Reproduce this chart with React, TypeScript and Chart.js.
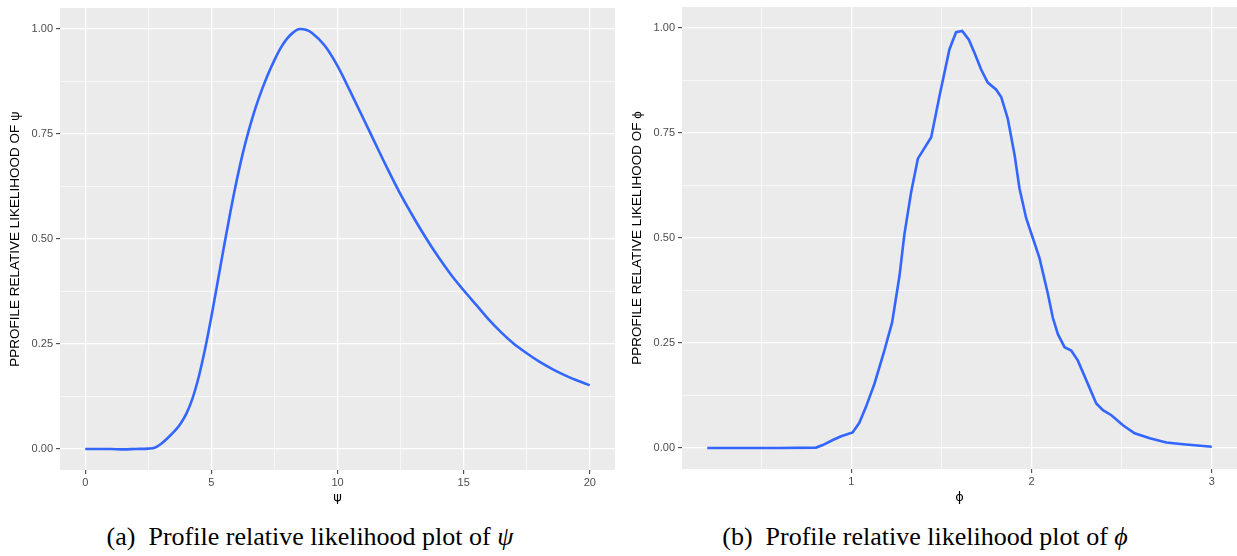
import React, { useEffect, useRef } from "react";
import { Chart, registerables } from "chart.js";

Chart.register(...registerables);

// ---- data ----
const psiValues = [0, 0.5, 1, 1.5, 2, 2.5, 2.75, 3, 3.25, 3.5, 3.75, 4, 4.25, 4.5, 4.75, 5, 5.25, 5.5, 5.75, 6, 6.25, 6.5, 6.75, 7, 7.25, 7.5, 7.75, 8, 8.25, 8.5, 8.75, 9, 9.5, 10, 10.5, 11, 11.5, 12, 12.5, 13, 13.5, 14, 14.5, 15, 15.5, 16, 16.5, 17, 17.5, 18, 18.5, 19, 19.5, 20];
const psiLikelihood = [0, 0, 0, -0.001, 0, 0.001, 0.003, 0.012, 0.025, 0.04, 0.058, 0.083, 0.12, 0.172, 0.238, 0.315, 0.398, 0.482, 0.563, 0.638, 0.705, 0.762, 0.812, 0.855, 0.893, 0.926, 0.955, 0.977, 0.992, 1.0, 0.998, 0.99, 0.96, 0.912, 0.852, 0.79, 0.727, 0.665, 0.606, 0.553, 0.503, 0.457, 0.415, 0.378, 0.343, 0.308, 0.277, 0.25, 0.228, 0.208, 0.191, 0.176, 0.163, 0.152];

const phiValues = [0.2, 0.4, 0.6, 0.804, 0.841, 0.897, 0.943, 1.007, 1.044, 1.081, 1.128, 1.183, 1.226, 1.267, 1.294, 1.332, 1.369, 1.443, 1.489, 1.544, 1.581, 1.615, 1.652, 1.683, 1.72, 1.757, 1.804, 1.832, 1.868, 1.906, 1.933, 1.97, 2.007, 2.044, 2.072, 2.091, 2.118, 2.146, 2.183, 2.22, 2.257, 2.304, 2.359, 2.396, 2.443, 2.507, 2.572, 2.656, 2.748, 2.841, 3.0];
const phiLikelihood = [0, 0, 0, 0.001, 0.007, 0.019, 0.028, 0.037, 0.06, 0.098, 0.153, 0.232, 0.299, 0.41, 0.508, 0.61, 0.689, 0.74, 0.838, 0.949, 0.99, 0.993, 0.972, 0.941, 0.901, 0.87, 0.853, 0.835, 0.784, 0.697, 0.618, 0.547, 0.5, 0.452, 0.401, 0.366, 0.31, 0.271, 0.24, 0.232, 0.208, 0.161, 0.106, 0.09, 0.078, 0.054, 0.035, 0.023, 0.013, 0.009, 0.003];

const likelihoodTicks = [0, 0.25, 0.5, 0.75, 1];
const likelihoodMinor = [0.125, 0.375, 0.625, 0.875];
const psiTicks = [0, 5, 10, 15, 20];
const psiMinor = [2.5, 7.5, 12.5, 17.5];
const phiTicks = [1, 2, 3];
const phiMinor = [0.5, 1.5, 2.5];

const yTitleA = "PPROFILE RELATIVE LIKELIHOOD OF ψ";
const yTitleB = "PPROFILE RELATIVE LIKELIHOOD OF ϕ";
const xTitleA = "ψ";
const xTitleB = "ϕ";

const LINE_COLOR = "#3366FF";

const bgPlugin = {
  id: "panelBg",
  beforeDraw(chart: any) {
    const { ctx, chartArea: a } = chart;
    ctx.save();
    ctx.fillStyle = "#EBEBEB";
    ctx.fillRect(a.left, a.top, a.right - a.left, a.bottom - a.top);
    ctx.restore();
  },
};

const near = (list: number[], v: number) => list.some((m) => Math.abs(m - v) < 1e-9);

function makeConfig(p: any) {
  const xAll = [...p.xMajor, ...p.xMinor].sort((a: number, b: number) => a - b);
  const yAll = [...likelihoodTicks, ...likelihoodMinor].sort((a, b) => a - b);
  const tickFont = { family: "'Liberation Sans', Arial, sans-serif", size: 11 };
  const titleFont = { family: "'Liberation Sans', Arial, sans-serif", size: 13.5 };
  const gridFor = (major: number[]) => ({
    color: "#FFFFFF",
    lineWidth: (c: any) => (c.tick && near(major, c.tick.value) ? 1.3 : 0.6),
    drawTicks: true,
    tickLength: 4,
    tickWidth: 1,
    tickColor: (c: any) => (c.tick && near(major, c.tick.value) ? "#333333" : "rgba(0,0,0,0)"),
  });
  return {
    type: "line",
    data: {
      datasets: [
        {
          data: p.xs.map((x: number, i: number) => ({ x, y: p.ys[i] })),
          borderColor: LINE_COLOR,
          borderWidth: 2.6,
          pointRadius: 0,
          fill: false,
          tension: p.smooth ? 0.4 : 0,
          cubicInterpolationMode: p.smooth ? "monotone" : "default",
        },
      ],
    },
    options: {
      responsive: false,
      animation: false,
      devicePixelRatio: 1,
      layout: { padding: p.padding },
      plugins: { legend: { display: false }, tooltip: { enabled: false } },
      scales: {
        x: {
          type: "linear",
          min: p.xMin,
          max: p.xMax,
          afterBuildTicks: (s: any) => {
            s.ticks = xAll.map((v: number) => ({ value: v }));
          },
          afterFit: (s: any) => {
            s.height = p.xAxisHeight;
            s.paddingLeft = 0;
            s.paddingRight = 0;
          },
          ticks: {
            autoSkip: false,
            maxRotation: 0,
            minRotation: 0,
            padding: 2,
            color: "#4D4D4D",
            font: tickFont,
            callback: (v: number) => (near(p.xMajor, v) ? String(v) : ""),
          },
          grid: gridFor(p.xMajor),
          border: { display: false },
          title: {
            display: true,
            text: p.xTitle,
            color: "#000000",
            font: { family: "'DejaVu Sans', sans-serif", size: 13 },
            padding: { top: 0, bottom: 5 },
          },
        },
        y: {
          type: "linear",
          min: -0.05,
          max: 1.05,
          afterBuildTicks: (s: any) => {
            s.ticks = yAll.map((v: number) => ({ value: v }));
          },
          afterFit: (s: any) => {
            s.width = p.yAxisWidth;
            s.paddingTop = 0;
            s.paddingBottom = 0;
          },
          ticks: {
            autoSkip: false,
            padding: 3,
            color: "#4D4D4D",
            font: tickFont,
            callback: (v: number) => (near(likelihoodTicks, v) ? v.toFixed(2) : ""),
          },
          grid: gridFor(likelihoodTicks),
          border: { display: false },
          title: {
            display: true,
            text: p.yTitle,
            color: "#000000",
            font: titleFont,
            padding: { top: p.yTitlePad, bottom: 0 },
          },
        },
      },
    },
    plugins: [bgPlugin],
  };
}

function Panel(props: { cfg: any; left: number; width: number; height: number }) {
  const ref = useRef<HTMLCanvasElement | null>(null);
  useEffect(() => {
    if (!ref.current) return;
    const chart = new Chart(ref.current, props.cfg);
    return () => chart.destroy();
  }, []);
  return (
    <canvas
      ref={ref}
      width={props.width}
      height={props.height}
      style={{ position: "absolute", left: props.left, top: 0, width: props.width, height: props.height }}
    />
  );
}

const cfgA = makeConfig({
  xs: psiValues,
  ys: psiLikelihood,
  xMin: -1,
  xMax: 21,
  xMajor: psiTicks,
  xMinor: psiMinor,
  xTitle: xTitleA,
  yTitle: yTitleA,
  yAxisWidth: 60,
  xAxisHeight: 40,
  yTitlePad: 7,
  padding: { left: 0, top: 8, right: 5, bottom: 0 },
  smooth: true,
});

const cfgB = makeConfig({
  xs: phiValues,
  ys: phiLikelihood,
  xMin: 0.06,
  xMax: 3.14,
  xMajor: phiTicks,
  xMinor: phiMinor,
  xTitle: xTitleB,
  yTitle: yTitleB,
  yAxisWidth: 62,
  xAxisHeight: 41,
  yTitlePad: 9,
  padding: { left: 0, top: 7, right: 0, bottom: 0 },
  smooth: false,
});

const captionStyle: React.CSSProperties = {
  position: "absolute",
  top: 522,
  width: 620,
  textAlign: "center",
  fontFamily: "'Liberation Serif', 'Times New Roman', serif",
  fontSize: 26,
  color: "#000",
  lineHeight: "30px",
  whiteSpace: "nowrap",
};

export default function App() {
  return (
    <div style={{ position: "absolute", left: 0, top: 0, width: 1237, height: 556, background: "#FFFFFF", overflow: "hidden" }}>
      <Panel cfg={cfgA} left={0} width={620} height={510} />
      <Panel cfg={cfgB} left={620} width={617} height={510} />
      <div style={{ ...captionStyle, left: 0 }}>
        (a){"\u2002"}Profile relative likelihood plot of <i>ψ</i>
      </div>
      <div style={{ ...captionStyle, left: 615 }}>
        (b){"\u2002"}Profile relative likelihood plot of <i>ϕ</i>
      </div>
    </div>
  );
}
